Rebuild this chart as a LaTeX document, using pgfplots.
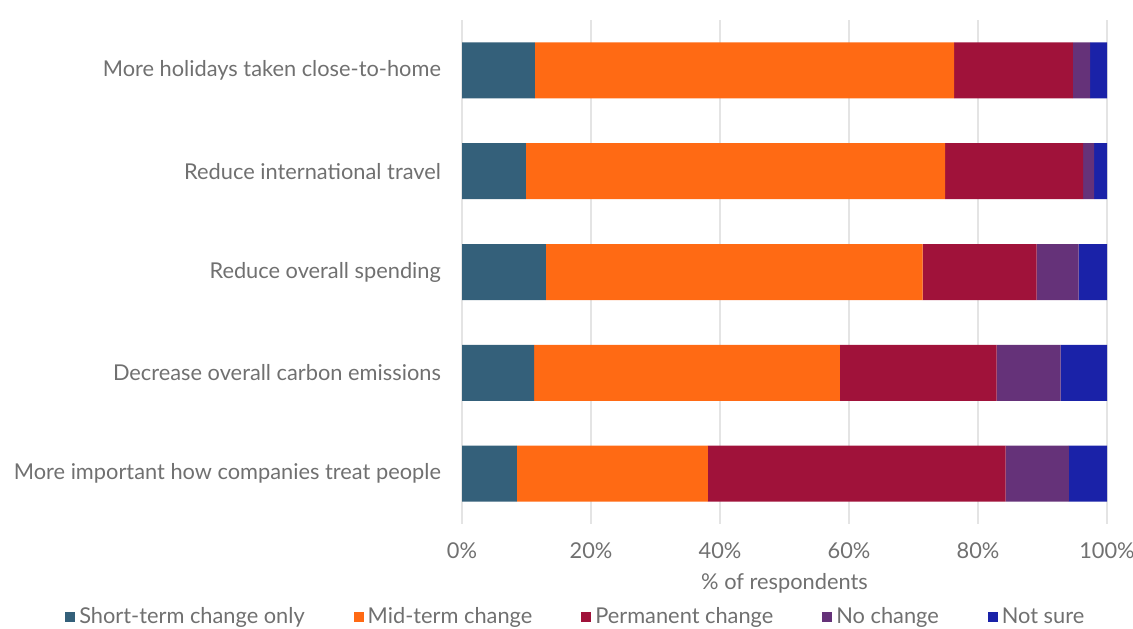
\documentclass[border=0pt]{standalone}
\usepackage{pgfplots}
\pgfplotsset{compat=1.18}
\usepackage{fontspec}
\setmainfont{Lato}
\definecolor{cteal}{HTML}{34607A}
\definecolor{corange}{HTML}{FF6A14}
\definecolor{cred}{HTML}{A0123A}
\definecolor{cpurple}{HTML}{653279}
\definecolor{cblue}{HTML}{1A22A8}
\definecolor{txtgray}{HTML}{707070}
\definecolor{gridgray}{HTML}{E4E4E4}
\begin{document}
\begin{tikzpicture}[x=1pt,y=1pt]
\useasboundingbox (0,0) rectangle (566.5,314);
\begin{axis}[
  at={(231pt,52pt)}, anchor=south west,
  scale only axis, width=322.5pt, height=252pt,
  xbar stacked, bar width=28pt,
  xmin=0, xmax=100, ymin=-0.5, ymax=4.5, y dir=reverse,
  ytick={0,1,2,3,4},
  yticklabels={More holidays taken close-to-home, Reduce international travel, Reduce overall spending, Decrease overall carbon emissions, More important how companies treat people},
  xtick={0,20,40,60,80,100},
  xticklabels={0\%,20\%,40\%,60\%,80\%,100\%},
  xmajorgrids, grid style={draw=gridgray, line width=0.6pt},
  axis line style={draw=none}, major tick length=0pt,
  ticklabel style={font=\fontsize{10.9}{13}\selectfont, text=txtgray},
  yticklabel style={xshift=-7pt},
  xticklabel style={yshift=-6pt},
  xlabel={\% of respondents},
  xlabel style={font=\fontsize{10.9}{13}\selectfont, text=txtgray, yshift=-0.5pt},
  every axis plot post/.append style={draw=none, legend image code/.code={\fill[##1] (0pt,-2.5pt) rectangle (5pt,2.5pt);}},
  legend columns=5,
  legend cell align=left,
  legend style={draw=none, fill=none, at={(axis description cs:0.178,-0.184)}, anchor=center,
    font=\fontsize{10.9}{13}\selectfont, text=txtgray,
    /tikz/every even column/.append style={column sep=22.5pt}},
]
\addplot[fill=cteal] coordinates {(11.3,0) (9.9,1) (13.0,2) (11.2,3) (8.5,4)};
\addplot[fill=corange] coordinates {(65.0,0) (65.0,1) (58.4,2) (47.4,3) (29.6,4)};
\addplot[fill=cred] coordinates {(18.4,0) (21.4,1) (17.7,2) (24.3,3) (46.2,4)};
\addplot[fill=cpurple] coordinates {(2.7,0) (1.7,1) (6.5,2) (9.9,3) (9.8,4)};
\addplot[fill=cblue] coordinates {(2.6,0) (2.0,1) (4.4,2) (7.2,3) (5.9,4)};
\legend{Short-term change only, Mid-term change, Permanent change, No change, Not sure}
\end{axis}
\end{tikzpicture}
\end{document}
